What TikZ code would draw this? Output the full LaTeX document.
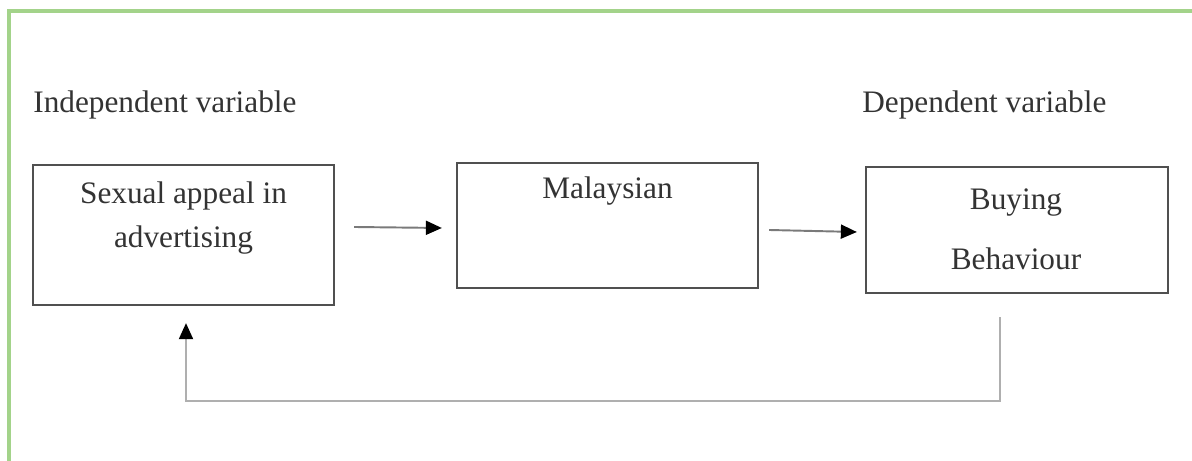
\documentclass[tikz,border=0pt]{standalone}
\usepackage{fontspec}
\setmainfont{Liberation Serif}
\usepackage{xcolor}
\usetikzlibrary{arrows.meta, positioning, calc}

\definecolor{frameGreen}{HTML}{A3D38A}
\definecolor{boxGray}{HTML}{505050}
\definecolor{txtGray}{HTML}{333333}
\definecolor{arrGray}{HTML}{7A7A7A}
\definecolor{fbGray}{HTML}{AFAFAF}

\tikzset{
  varbox/.style={draw=boxGray, line width=1.3pt, minimum width=6.02cm, inner sep=0pt},
  txt/.style={text=txtGray, font=\fontsize{17.8}{25}\selectfont, inner sep=0pt},
  lbl/.style={txt, anchor=west},
  arr/.style={draw=arrGray, line width=1.1pt, -{Triangle[length=0.32cm, width=0.28cm, color=black]}},
  fb/.style={draw=fbGray, line width=1.1pt, -{Triangle[length=0.32cm, width=0.28cm, color=black]}}
}

\begin{document}
\begin{tikzpicture}
  \useasboundingbox (0,0) rectangle (23.84,9.22);
  % green frame, only left and top
  \draw[frameGreen, line width=2pt] (0.18,0) -- (0.18,9.0) -- (23.84,9.0);

  % headings
  \node[lbl] (indep) at (0.66,7.12) {Independent variable};
  \node[lbl] (dep) at (17.24,7.12) {Dependent variable};

  % boxes
  \node[varbox, minimum height=2.8cm] (sex) at (3.67,4.52) {};
  \node[varbox, minimum height=2.5cm] (malay) at (12.15,4.71) {};
  \node[varbox, minimum height=2.52cm, minimum width=6.04cm] (buy) at (20.34,4.62) {};

  % box texts
  \node[txt, align=center, font=\fontsize{17.8}{25}\selectfont] (sextxt) at (3.67,4.86) {Sexual appeal in\\advertising};
  \node[txt] (malaytxt) at (12.15,5.40) {Malaysian};
  \node[txt, align=center, font=\fontsize{17.8}{34}\selectfont] (buytxt) at (20.32,4.64) {Buying\\Behaviour};

  % arrows
  \draw[arr] ($(sex.east)+(0.38,0.16)$) -- ($(malay.west)+(-0.28,-0.05)$);
  \draw[arr] ($(malay.east)+(0.2,-0.09)$) -- ($(buy.west)+(-0.16,-0.04)$);
  % feedback
  \draw[fb] ($(buy.south)+(-0.34,-0.46)$) -- ++(0,-1.68) -| ($(sex.south)+(0.05,-0.34)$);
\end{tikzpicture}
\end{document}
